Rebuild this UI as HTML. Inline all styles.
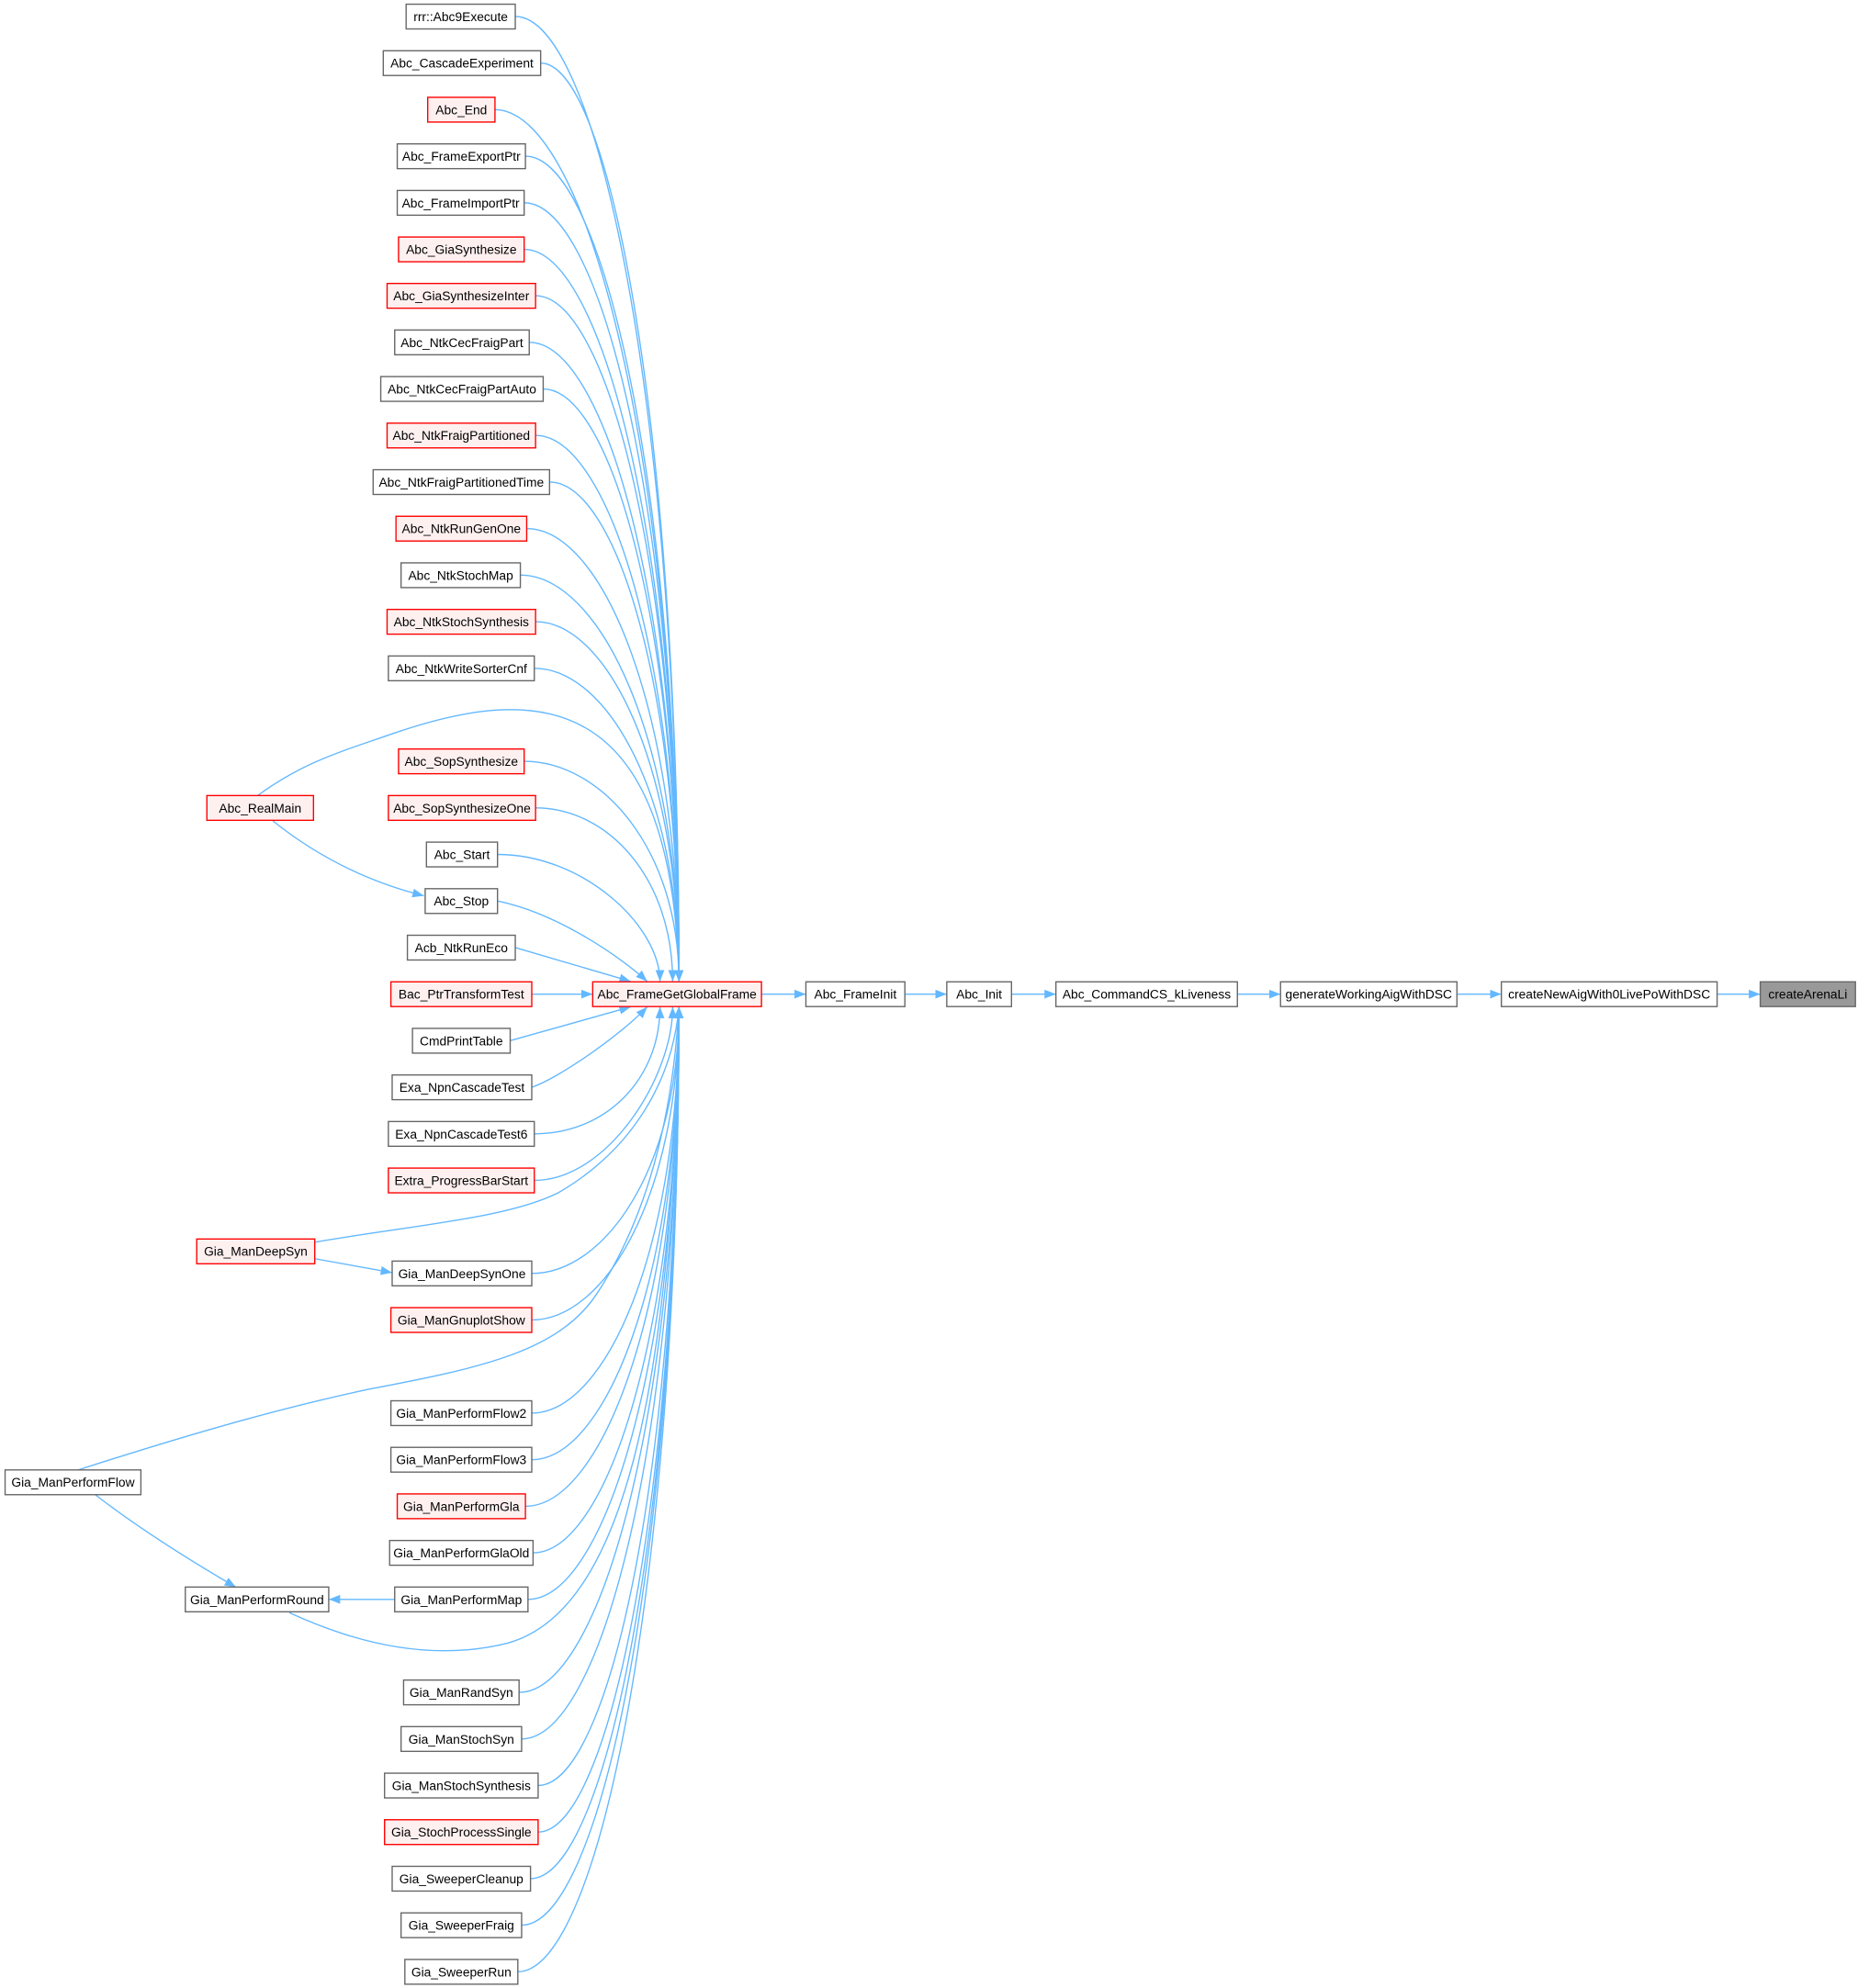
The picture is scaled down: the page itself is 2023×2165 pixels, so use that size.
<!DOCTYPE html>
<html><head><meta charset="utf-8"><style>
html,body{margin:0;padding:0;background:#fff;}
svg{display:block;}
text{font-family:"Liberation Sans",Arial,sans-serif;font-size:10px;fill:#000;text-anchor:middle;dominant-baseline:central;}
.n rect{fill:#fff;stroke:#666;stroke-width:1;}
.r rect{fill:#FFF0F0;stroke:#FF0000;stroke-width:1;}
.e{fill:none;stroke:#63B8FF;stroke-width:1;}
</style></head><body>
<svg width="2023" height="2165" viewBox="0 0 1464 1566.8" xmlns="http://www.w3.org/2000/svg">
<defs><marker id="a" markerUnits="userSpaceOnUse" markerWidth="10" markerHeight="8" refX="9" refY="3.5" orient="auto"><path d="M0,0 L9,3.5 L0,7 z" fill="#63B8FF"/></marker></defs>
<g marker-end="url(#a)">
<path class="e" d="M406,13 C470.5,13 535,317.2 535,773.5"/>
<path class="e" d="M426,49.7 C480.5,49.7 535,339.2 535,773.5"/>
<path class="e" d="M390,86.4 C462.5,86.4 535,361.2 535,773.5"/>
<path class="e" d="M414,123.1 C474.5,123.1 535,383.3 535,773.5"/>
<path class="e" d="M413,159.8 C474,159.8 535,405.3 535,773.5"/>
<path class="e" d="M413,196.5 C474,196.5 535,427.3 535,773.5"/>
<path class="e" d="M422,233.1 C478.5,233.1 535,449.3 535,773.5"/>
<path class="e" d="M417,269.8 C476,269.8 535,471.3 535,773.5"/>
<path class="e" d="M428,306.5 C481.5,306.5 535,493.3 535,773.5"/>
<path class="e" d="M422,343.2 C478.5,343.2 535,515.3 535,773.5"/>
<path class="e" d="M433,379.9 C484,379.9 535,537.3 535,773.5"/>
<path class="e" d="M415,416.6 C475,416.6 535,559.4 535,773.5"/>
<path class="e" d="M410,453.3 C472.5,453.3 535,581.4 535,773.5"/>
<path class="e" d="M422,490 C478.5,490 535,603.4 535,773.5"/>
<path class="e" d="M421,526.7 C478,526.7 535,625.4 535,773.5"/>
<path class="e" d="M413,600 C474,600 535,669.4 535,773.5"/>
<path class="e" d="M422,636.7 C478.5,636.7 530,691.4 530,773.5"/>
<path class="e" d="M392,673.4 C460,673.4 520,730 520,773.5"/>
<path class="e" d="M392,710.1 C440,720 490,755 510,773.5"/>
<path class="e" d="M406,746.8 L497,773.5"/>
<path class="e" d="M419,783.5 L467,783.5"/>
<path class="e" d="M402,820.2 L497,793.5"/>
<path class="e" d="M419,856.9 C440,850 490,815 510,793.5"/>
<path class="e" d="M421,893.6 C478,893.6 520,850 520,793.5"/>
<path class="e" d="M421,930.3 C478,930.3 530,850 530,793.5"/>
<path class="e" d="M419,1003.6 C477,1003.6 535,919.6 535,793.5"/>
<path class="e" d="M419,1040.3 C477,1040.3 535,941.6 535,793.5"/>
<path class="e" d="M419,1113.7 C477,1113.7 535,985.6 535,793.5"/>
<path class="e" d="M419,1150.4 C477,1150.4 535,1007.6 535,793.5"/>
<path class="e" d="M414,1187.1 C474.5,1187.1 535,1029.7 535,793.5"/>
<path class="e" d="M420,1223.8 C477.5,1223.8 535,1051.7 535,793.5"/>
<path class="e" d="M416,1260.5 C475.5,1260.5 535,1073.7 535,793.5"/>
<path class="e" d="M409,1333.8 C472,1333.8 535,1117.6 535,793.5"/>
<path class="e" d="M411,1370.5 C473,1370.5 535,1139.7 535,793.5"/>
<path class="e" d="M424,1407.2 C479.5,1407.2 535,1161.7 535,793.5"/>
<path class="e" d="M424,1443.9 C479.5,1443.9 535,1183.7 535,793.5"/>
<path class="e" d="M418,1480.6 C476.5,1480.6 535,1205.7 535,793.5"/>
<path class="e" d="M411,1517.3 C473,1517.3 535,1227.8 535,793.5"/>
<path class="e" d="M408,1554 C471.5,1554 535,1249.8 535,793.5"/>
<path class="e" d="M203,627 C240,600 270,592 310,578 C420,540 530,540 535,773.5"/>
<path class="e" d="M215,647 C250,675 290,695 334,706"/>
<path class="e" d="M248,979 C330,965 400,960 440,940 C500,905 530,850 535,793.5"/>
<path class="e" d="M248,992 L309,1003"/>
<path class="e" d="M60,1159 C150,1130 220,1110 290,1095 C380,1078 440,1065 470,1020 C510,960 530,880 535,793.5"/>
<path class="e" d="M75,1178 C110,1205 150,1230 186,1251"/>
<path class="e" d="M311,1260.5 L259,1260.5"/>
<path class="e" d="M228,1271 C280,1295 340,1310 400,1295 C490,1270 530,1100 535,793.5"/>
<path class="e" d="M600,783.5 L635,783.5"/>
<path class="e" d="M713,783.5 L746,783.5"/>
<path class="e" d="M797,783.5 L832,783.5"/>
<path class="e" d="M975,783.5 L1009,783.5"/>
<path class="e" d="M1148,783.5 L1183,783.5"/>
<path class="e" d="M1353,783.5 L1387,783.5"/>
</g>
<g class="n"><rect x="320" y="3.3" width="86" height="19.5"/><text x="363" y="13">rrr::Abc9Execute</text></g>
<g class="n"><rect x="302" y="40" width="124" height="19.5"/><text x="364" y="49.7">Abc_CascadeExperiment</text></g>
<g class="r"><rect x="337" y="76.7" width="53" height="19.5"/><text x="363.5" y="86.4">Abc_End</text></g>
<g class="n"><rect x="313" y="113.4" width="101" height="19.5"/><text x="363.5" y="123.1">Abc_FrameExportPtr</text></g>
<g class="n"><rect x="313" y="150.1" width="100" height="19.5"/><text x="363" y="159.8">Abc_FrameImportPtr</text></g>
<g class="r"><rect x="314" y="186.8" width="99" height="19.5"/><text x="363.5" y="196.5">Abc_GiaSynthesize</text></g>
<g class="r"><rect x="305" y="223.4" width="117" height="19.5"/><text x="363.5" y="233.1">Abc_GiaSynthesizeInter</text></g>
<g class="n"><rect x="311" y="260.1" width="106" height="19.5"/><text x="364" y="269.8">Abc_NtkCecFraigPart</text></g>
<g class="n"><rect x="300" y="296.8" width="128" height="19.5"/><text x="364" y="306.5">Abc_NtkCecFraigPartAuto</text></g>
<g class="r"><rect x="305" y="333.5" width="117" height="19.5"/><text x="363.5" y="343.2">Abc_NtkFraigPartitioned</text></g>
<g class="n"><rect x="294" y="370.2" width="139" height="19.5"/><text x="363.5" y="379.9">Abc_NtkFraigPartitionedTime</text></g>
<g class="r"><rect x="312" y="406.9" width="103" height="19.5"/><text x="363.5" y="416.6">Abc_NtkRunGenOne</text></g>
<g class="n"><rect x="316" y="443.6" width="94" height="19.5"/><text x="363" y="453.3">Abc_NtkStochMap</text></g>
<g class="r"><rect x="305" y="480.3" width="117" height="19.5"/><text x="363.5" y="490">Abc_NtkStochSynthesis</text></g>
<g class="n"><rect x="306" y="517" width="115" height="19.5"/><text x="363.5" y="526.7">Abc_NtkWriteSorterCnf</text></g>
<g class="r"><rect x="314" y="590.3" width="99" height="19.5"/><text x="363.5" y="600">Abc_SopSynthesize</text></g>
<g class="r"><rect x="306" y="627" width="116" height="19.5"/><text x="364" y="636.7">Abc_SopSynthesizeOne</text></g>
<g class="n"><rect x="336" y="663.7" width="56" height="19.5"/><text x="364" y="673.4">Abc_Start</text></g>
<g class="n"><rect x="335" y="700.4" width="57" height="19.5"/><text x="363.5" y="710.1">Abc_Stop</text></g>
<g class="n"><rect x="321" y="737.1" width="85" height="19.5"/><text x="363.5" y="746.8">Acb_NtkRunEco</text></g>
<g class="r"><rect x="308" y="773.8" width="111" height="19.5"/><text x="363.5" y="783.5">Bac_PtrTransformTest</text></g>
<g class="n"><rect x="325" y="810.5" width="77" height="19.5"/><text x="363.5" y="820.2">CmdPrintTable</text></g>
<g class="n"><rect x="309" y="847.2" width="110" height="19.5"/><text x="364" y="856.9">Exa_NpnCascadeTest</text></g>
<g class="n"><rect x="306" y="883.9" width="115" height="19.5"/><text x="363.5" y="893.6">Exa_NpnCascadeTest6</text></g>
<g class="r"><rect x="306" y="920.6" width="115" height="19.5"/><text x="363.5" y="930.3">Extra_ProgressBarStart</text></g>
<g class="n"><rect x="309" y="993.9" width="110" height="19.5"/><text x="364" y="1003.6">Gia_ManDeepSynOne</text></g>
<g class="r"><rect x="308" y="1030.6" width="111" height="19.5"/><text x="363.5" y="1040.3">Gia_ManGnuplotShow</text></g>
<g class="n"><rect x="308" y="1104" width="111" height="19.5"/><text x="363.5" y="1113.7">Gia_ManPerformFlow2</text></g>
<g class="n"><rect x="308" y="1140.7" width="111" height="19.5"/><text x="363.5" y="1150.4">Gia_ManPerformFlow3</text></g>
<g class="r"><rect x="313" y="1177.4" width="101" height="19.5"/><text x="363.5" y="1187.1">Gia_ManPerformGla</text></g>
<g class="n"><rect x="307" y="1214.1" width="113" height="19.5"/><text x="363.5" y="1223.8">Gia_ManPerformGlaOld</text></g>
<g class="n"><rect x="311" y="1250.8" width="105" height="19.5"/><text x="363.5" y="1260.5">Gia_ManPerformMap</text></g>
<g class="n"><rect x="318" y="1324.1" width="91" height="19.5"/><text x="363.5" y="1333.8">Gia_ManRandSyn</text></g>
<g class="n"><rect x="316" y="1360.8" width="95" height="19.5"/><text x="363.5" y="1370.5">Gia_ManStochSyn</text></g>
<g class="n"><rect x="303" y="1397.5" width="121" height="19.5"/><text x="363.5" y="1407.2">Gia_ManStochSynthesis</text></g>
<g class="r"><rect x="303" y="1434.2" width="121" height="19.5"/><text x="363.5" y="1443.9">Gia_StochProcessSingle</text></g>
<g class="n"><rect x="309" y="1470.9" width="109" height="19.5"/><text x="363.5" y="1480.6">Gia_SweeperCleanup</text></g>
<g class="n"><rect x="316" y="1507.6" width="95" height="19.5"/><text x="363.5" y="1517.3">Gia_SweeperFraig</text></g>
<g class="n"><rect x="319" y="1544.3" width="89" height="19.5"/><text x="363.5" y="1554">Gia_SweeperRun</text></g>
<g class="r"><rect x="163" y="627" width="84" height="19.5"/><text x="205" y="636.7">Abc_RealMain</text></g>
<g class="r"><rect x="155" y="976.5" width="93" height="19.5"/><text x="201.5" y="986.2">Gia_ManDeepSyn</text></g>
<g class="n"><rect x="4" y="1158.5" width="107" height="19.5"/><text x="57.5" y="1168.2">Gia_ManPerformFlow</text></g>
<g class="n"><rect x="146" y="1250.8" width="113" height="19.5"/><text x="202.5" y="1260.5">Gia_ManPerformRound</text></g>
<g class="r"><rect x="467" y="773.8" width="133" height="19.5"/><text x="533.5" y="783.5">Abc_FrameGetGlobalFrame</text></g>
<g class="n"><rect x="635" y="773.8" width="78" height="19.5"/><text x="674" y="783.5">Abc_FrameInit</text></g>
<g class="n"><rect x="746" y="773.8" width="51" height="19.5"/><text x="771.5" y="783.5">Abc_Init</text></g>
<g class="n"><rect x="832" y="773.8" width="143" height="19.5"/><text x="903.5" y="783.5">Abc_CommandCS_kLiveness</text></g>
<g class="n"><rect x="1009" y="773.8" width="139" height="19.5"/><text x="1078.5" y="783.5">generateWorkingAigWithDSC</text></g>
<g class="n"><rect x="1183" y="773.8" width="170" height="19.5"/><text x="1268" y="783.5">createNewAigWith0LivePoWithDSC</text></g>
<g><rect x="1387" y="773.8" width="75" height="19.5" fill="#999" stroke="#666"/><text x="1424.5" y="783.5">createArenaLi</text></g>
</svg>
</body></html>
